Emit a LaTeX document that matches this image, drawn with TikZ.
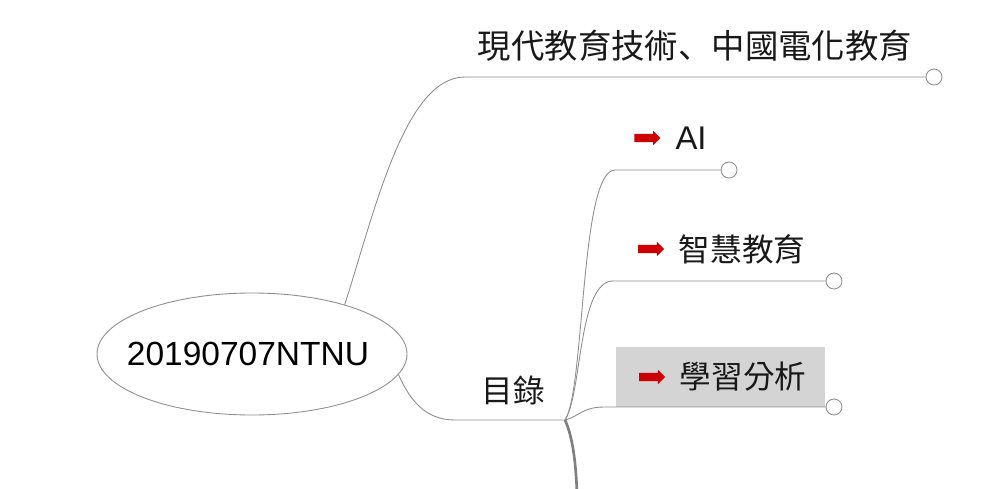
\documentclass[tikz,border=0pt]{standalone}
\usepackage{fontspec}
\setmainfont{Liberation Sans}
\newfontfamily\cjk{Noto Sans CJK TC}
\newfontfamily\cjkjp{Noto Sans CJK JP}
\usetikzlibrary{positioning, shapes.geometric, shapes.arrows}
\definecolor{linegray}{HTML}{8E8E8E}
\definecolor{boxgray}{HTML}{D4D4D4}
\definecolor{arrowred}{HTML}{CC0000}

\begin{document}
\begin{tikzpicture}[x=0.3mm,y=-0.3mm,
    branch/.style={draw=linegray, line width=0.75pt},
    endcirc/.style={circle, draw=linegray, fill=white, line width=0.75pt, minimum size=4.8mm, inner sep=0pt},
    topic/.style={inner sep=0pt, text=black!90, font=\cjk\fontsize{27}{30}\selectfont},
    redarr/.style={single arrow, fill=arrowred, draw=none, inner sep=1.15mm, minimum height=7.8mm,
        single arrow head extend=0.95mm}]

    \useasboundingbox (0,0) rectangle (1000,489);

    % Highlight box
    \node[fill=boxgray, minimum width=62.7mm, minimum height=18mm, inner sep=0pt] (box) at (720.5,377) {};

    % Root
    \node[ellipse, draw=linegray, line width=0.75pt, minimum width=93mm, minimum height=36.6mm, inner sep=0pt] (root) at (252,354) {};
    \node[inner sep=0pt, font=\fontsize{28.6}{30}\selectfont] (tRoot) at (248,354) {20190707NTNU};

    % Topics
    \node[topic, font=\cjk\fontsize{28.5}{30}\selectfont] (tTop) at (695,46) {現代教育技術{\cjkjp 、}中國電化教育};
    \node[topic] (tMenu) at (513,390) {目錄};
    \node[topic, font=\fontsize{28}{30}\selectfont] (tAI) at (691,138) {AI};
    \node[topic] (tSE) at (742,249) {智慧教育};
    \node[topic] (tLA) at (743,377) {學習分析};

    % Red arrows
    \node[redarr, left=4.4mm of tAI] (aAI) {};
    \node[redarr, left=4.2mm of tSE] (aSE) {};
    \node[redarr, left=4.2mm of tLA] (aLA) {};

    % End circles
    \node[endcirc] (cTop) at (934,77) {};
    \node[endcirc] (cAI) at (729,170) {};
    \node[endcirc] (cSE) at (834,281) {};
    \node[endcirc] (cLA) at (834,407) {};

    % Bends
    \coordinate (kTop) at (465,77);
    \coordinate (kMenu) at (455,420);
    \coordinate (j) at (565,420);
    \coordinate (kAI) at (615,170);
    \coordinate (kSE) at (613,281);
    \coordinate (kLA) at (605,407);
    \coordinate (kDown) at (577,495);

    % Branches
    \draw[branch] (root.28) .. controls (375,210) and (405,77) .. (kTop) -- (cTop.west);
    \draw[branch] (root.-8) .. controls (410,400) and (425,420) .. (kMenu) -- (j);
    \draw[branch] (j) .. controls (585,390) and (580,170) .. (kAI) -- (cAI.west);
    \draw[branch] (j) .. controls (582,395) and (578,281) .. (kSE) -- (cSE.west);
    \draw[branch] (j) .. controls (580,416) and (582,407) .. (kLA) -- (cLA.west);

    % Folded branches below
    \draw[black!50, line width=0.8mm] (j) .. controls (572,435) and (576,460) .. (kDown);

\end{tikzpicture}
\end{document}
